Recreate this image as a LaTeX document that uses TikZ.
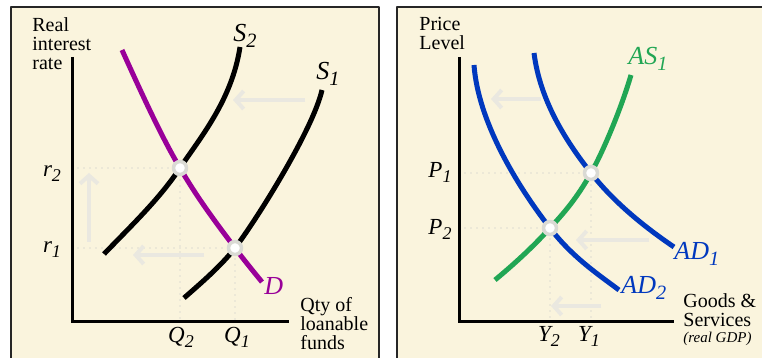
\documentclass[tikz,border=0pt]{standalone}
\usepackage{fontspec}
\setmainfont{Liberation Serif}
\usepackage{xcolor}
\usetikzlibrary{arrows.meta}
\definecolor{cream}{RGB}{250,244,221}
\definecolor{dfpurple}{RGB}{153,0,153}
\definecolor{adblue}{RGB}{0,56,190}
\definecolor{asgreen}{RGB}{33,166,84}
\definecolor{dotgrey}{RGB}{222,220,210}
\definecolor{faint}{RGB}{234,232,224}
\definecolor{ring}{RGB}{218,218,212}
\newcommand{\curvelbl}[2]{\textit{#1\raisebox{-0.45ex}{\scalebox{0.78}{#2}}}}
\tikzset{
  every picture/.style={line join=round, >=Stealth},
  panel/.style={draw=black!85, line width=1pt, fill=cream},
  axis/.style={line width=1.5pt, line join=miter},
  curve/.style={line width=2.5pt},
  guide/.style={draw=dotgrey, line width=0.9pt, dash pattern=on 0pt off 3pt, line cap=round},
  shift arrow/.style={draw=faint, line width=2pt, -{Straight Barb[length=4pt,width=9pt,line width=2pt]}},
  eqpt/.style={circle, draw=ring, line width=1.75pt, fill=white, minimum size=6.5pt, inner sep=0pt},
  axlabel/.style={align=left, inner sep=0pt, font=\fontsize{10}{9.5}\selectfont},
  ticklbl/.style={inner sep=0pt, anchor=base, font=\fontsize{11.5}{12}\selectfont},
  curvename/.style={inner sep=0pt, anchor=base west, font=\fontsize{13}{14}\selectfont},
}

\begin{document}
\begin{tikzpicture}[x=0.5pt,y=-0.5pt]
\useasboundingbox (0,0) rectangle (762,358);
\clip (0,0) rectangle (762,358);
% two panels
\draw[panel] (11,7) rectangle (379,380);
\draw[panel] (397,7) rectangle (790,380);

% loanable funds market
\coordinate (Lo) at (72,322);
\coordinate (Ltop) at (72,57);
\coordinate (Lend) at (289,322);
\coordinate (E2) at (180,168);
\coordinate (E1) at (235,248);
\draw[guide] (Lo |- E2) -- (E2) -- (E2 |- Lo);
\draw[guide] (Lo |- E1) -- (E1) -- (E1 |- Lo);
\coordinate (upA) at (89,242); \coordinate (upB) at (89,173);
\coordinate (qA) at (204,255); \coordinate (qB) at (133,255);
\coordinate (sA) at (305,100); \coordinate (sB) at (233,100);
\draw[shift arrow] (upA) -- (upB);
\draw[shift arrow] (qA) -- (qB);
\draw[shift arrow] (sA) -- (sB);
\draw[curve] (104,254) .. controls (135,222) and (160,198) .. (E2)
  .. controls (200,138) and (232,100) .. (240,47);
\draw[curve] (184,298) .. controls (200,284) and (221,266) .. (E1)
  .. controls (255,222) and (313,130) .. (322,90);
\draw[curve,dfpurple] (122,50) .. controls (141,92) and (161,136) .. (E2)
  .. controls (198,199) and (217,224) .. (E1)
  .. controls (244,260) and (253,271) .. (262,282);
\draw[axis] (Ltop) -- (Lo) -- (Lend);
\node[eqpt] (e2) at (E2) {};
\node[eqpt] (e1) at (E1) {};
\node[axlabel,anchor=north west] (ylabL) at (32,17) {Real\\interest\\rate};
\node[axlabel,anchor=north west] (xlabL) at (300,297) {Qty of\\loanable\\funds};
\node[curvename] (s2) at (233,42) {\curvelbl{S}{2}};
\node[curvename] (s1) at (316,80) {\curvelbl{S}{1}};
\node[curvename,text=dfpurple] (d) at (264,295) {\textit{D}};
\node[ticklbl] (r2) at (52,177) {\curvelbl{r}{2}};
\node[ticklbl] (r1) at (52,253) {\curvelbl{r}{1}};
\node[ticklbl] (q2) at (181,343) {\curvelbl{Q}{2}};
\node[ticklbl] (q1) at (237,343) {\curvelbl{Q}{1}};

% goods and services market
\coordinate (Ro) at (459,322);
\coordinate (Rtop) at (459,57);
\coordinate (Rend) at (674,322);
\coordinate (F1) at (591,173);
\coordinate (F2) at (550,228);
\draw[guide] (Ro |- F1) -- (F1) -- (F1 |- Ro);
\draw[guide] (Ro |- F2) -- (F2) -- (F2 |- Ro);
\coordinate (adA) at (541,99); \coordinate (adB) at (491,99);
\coordinate (mA) at (649,240); \coordinate (mB) at (576,240);
\coordinate (yA) at (601,306); \coordinate (yB) at (551,306);
\draw[shift arrow] (adA) -- (adB);
\draw[shift arrow] (mA) -- (mB);
\draw[shift arrow] (yA) -- (yB);
\draw[curve,adblue] (534,53) .. controls (540,100) and (565,140) .. (F1)
  .. controls (616,205) and (649,230) .. (674,247);
\draw[curve,adblue] (474,65) .. controls (478,120) and (515,183) .. (F2)
  .. controls (572,257) and (599,275) .. (619,290);
\draw[curve,asgreen] (495,280) .. controls (513,265) and (532,248) .. (F2)
  .. controls (564,213) and (577,198) .. (F1)
  .. controls (604,150) and (622,106) .. (631,75);
\draw[axis] (Rtop) -- (Ro) -- (Rend);
\node[eqpt] (f1) at (F1) {};
\node[eqpt] (f2) at (F2) {};
\node[axlabel,anchor=north west] (ylabR) at (419,17) {Price\\Level};
\node[axlabel,anchor=north west] (xlabR) at (683,293) {Goods \&\\Services\\[-1.5pt]{\fontsize{7.5}{8}\itshape (real GDP)}};
\node[curvename,text=asgreen] (as1) at (628,65) {\curvelbl{AS}{1}};
\node[curvename,text=adblue] (ad1) at (674,260) {\curvelbl{AD}{1}};
\node[curvename,text=adblue] (ad2) at (621,294) {\curvelbl{AD}{2}};
\node[ticklbl] (p1) at (440,178) {\curvelbl{P}{1}};
\node[ticklbl] (p2) at (440,235) {\curvelbl{P}{2}};
\node[ticklbl] (y2) at (549,342) {\curvelbl{Y}{2}};
\node[ticklbl] (y1) at (589,342) {\curvelbl{Y}{1}};
\end{tikzpicture}
\end{document}
